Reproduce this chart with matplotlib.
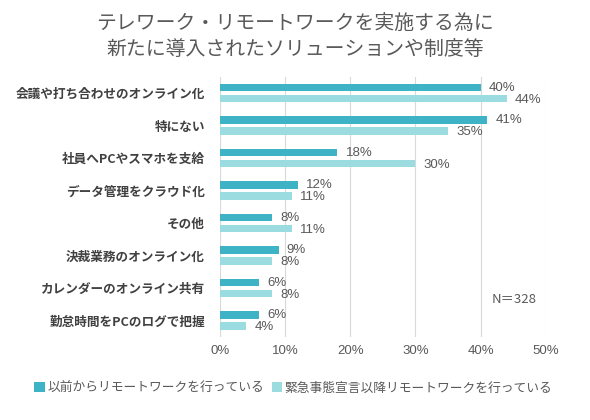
import matplotlib
matplotlib.use("Agg")
import matplotlib.pyplot as plt
import numpy as np

plt.rcParams['font.family'] = ['Noto Sans CJK JP', 'DejaVu Sans']

categories = ["会議や打ち合わせのオンライン化", "特にない", "社員へPCやスマホを支給",
              "データ管理をクラウド化", "その他", "決裁業務のオンライン化",
              "カレンダーのオンライン共有", "勤怠時間をPCのログで把握"]
before = [40, 41, 18, 12, 8, 9, 6, 6]
after = [44, 35, 30, 11, 11, 8, 8, 4]
series_names = ["以前からリモートワークを行っている", "緊急事態宣言以降リモートワークを行っている"]
xticks = [0, 10, 20, 30, 40, 50]

c1 = "#3DB3C5"
c2 = "#9BDCE1"
gray = "#595959"

fig = plt.figure(figsize=(5.9, 4.2), dpi=100)
ax = fig.add_axes([0.373, 0.198, 0.552, 0.619])

y = np.arange(len(categories))
h = 0.235
off = 0.17
b1 = ax.barh(y - off, before, height=h, color=c1, label=series_names[0], zorder=3)
b2 = ax.barh(y + off, after, height=h, color=c2, label=series_names[1], zorder=3)

lab_font = ['Liberation Sans', 'DejaVu Sans']
for yi, v in zip(y, before):
    ax.text(v + 1.25, yi - off, f"{v}%", va="center", ha="left", fontsize=9.5, color=gray,
            family=lab_font)
for yi, v in zip(y, after):
    ax.text(v + 1.25, yi + off + 0.03, f"{v}%", va="center", ha="left", fontsize=9.5, color=gray,
            family=lab_font)

ax.set_xlim(0, 50)
ax.set_ylim(len(categories) - 0.5, -0.5)
ax.set_xticks(xticks)
ax.set_xticklabels([f"{t}%" for t in xticks], fontsize=9.5, color=gray, family=lab_font)
ax.set_yticks(y)
ax.set_yticklabels(categories, fontsize=9.1, fontweight="bold", color="#404040")
ax.tick_params(axis="x", length=0, pad=6)
ax.tick_params(axis="y", length=0, pad=11)
ax.grid(axis="x", color="#D9D9D9", linewidth=0.8, zorder=0)
for s in ax.spines.values():
    s.set_visible(False)

ax.text(0.972, 0.145, "N＝328", transform=ax.transAxes, ha="right", va="center",
        fontsize=9.5, color=gray)

fig.text(0.5, 0.912, "テレワーク・リモートワークを実施する為に\n新たに導入されたソリューションや制度等",
         ha="center", va="center", fontsize=14.3, color=gray, linespacing=1.2)

fig.legend(handles=[b1, b2], labels=series_names, loc="center", bbox_to_anchor=(0.497, 0.076),
           ncol=2, frameon=False, fontsize=9.2, handlelength=0.8, handleheight=0.8,
           handletextpad=0.2, columnspacing=0.6, labelcolor=gray)

fig.savefig("out.png", dpi=100)
